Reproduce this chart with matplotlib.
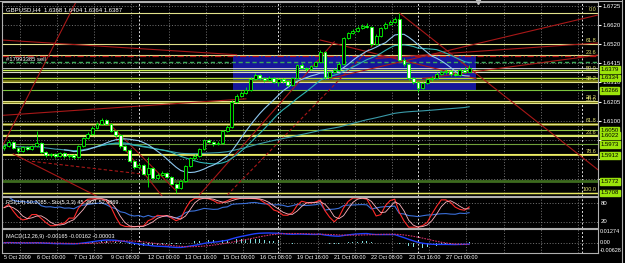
import numpy as np
import pandas as pd
import matplotlib
matplotlib.use("Agg")
import matplotlib.pyplot as plt
import matplotlib.transforms as mtransforms
from matplotlib.lines import Line2D

plt.rcParams['font.family'] = ['Liberation Sans Narrow', 'Liberation Sans', 'DejaVu Sans']

# GBPUSD H4, 5 Oct 2009 - 27 Oct 2009 (one value per bar)
first_open = 1.5950
closes = [1.5963, 1.5985, 1.5952, 1.5936, 1.5958, 1.5947, 1.5963, 1.5980, 1.5931, 1.5914,
          1.5920, 1.5909, 1.5925, 1.5909, 1.5914, 1.5904, 1.5963, 1.6007, 1.6029, 1.6061,
          1.6083, 1.6105, 1.6083, 1.6045, 1.6023, 1.5963, 1.5942, 1.5882, 1.5849, 1.5860,
          1.5811, 1.5844, 1.5789, 1.5806, 1.5816, 1.5795, 1.5757, 1.5735, 1.5773, 1.5855,
          1.5898, 1.5909, 1.5947, 1.5996, 1.5985, 1.5974, 1.5980, 1.6045, 1.6067, 1.6203,
          1.6235, 1.6252, 1.6268, 1.6328, 1.6350, 1.6333, 1.6322, 1.6333, 1.6312, 1.6328,
          1.6317, 1.6295, 1.6333, 1.6404, 1.6388, 1.6382, 1.6399, 1.6420, 1.6475, 1.6339,
          1.6366, 1.6377, 1.6409, 1.6551, 1.6578, 1.6589, 1.6605, 1.6616, 1.6611, 1.6518,
          1.6562, 1.6605, 1.6627, 1.6638, 1.6654, 1.6431, 1.6409, 1.6333, 1.6312, 1.6279,
          1.6306, 1.6328, 1.6333, 1.6355, 1.6366, 1.6371, 1.6355, 1.6350, 1.6377, 1.6368,
          1.6387]
highs = [1.5974, 1.5994, 1.5990, 1.5960, 1.5966, 1.5964, 1.5970, 1.6045, 1.5986, 1.5936,
         1.5928, 1.5925, 1.5932, 1.5930, 1.5921, 1.5918, 1.5970, 1.6015, 1.6038, 1.6070,
         1.6092, 1.6118, 1.6110, 1.6088, 1.6050, 1.6028, 1.5970, 1.5946, 1.5886, 1.5870,
         1.5865, 1.5904, 1.5848, 1.5815, 1.5825, 1.5820, 1.5800, 1.5762, 1.5780, 1.5862,
         1.5906, 1.5918, 1.5955, 1.6004, 1.6002, 1.5992, 1.5988, 1.6052, 1.6075, 1.6212,
         1.6245, 1.6262, 1.6285, 1.6338, 1.6360, 1.6356, 1.6340, 1.6345, 1.6338, 1.6336,
         1.6334, 1.6322, 1.6340, 1.6412, 1.6415, 1.6395, 1.6406, 1.6428, 1.6484, 1.6480,
         1.6374, 1.6386, 1.6418, 1.6558, 1.6586, 1.6598, 1.6614, 1.6626, 1.6630, 1.6618,
         1.6570, 1.6612, 1.6636, 1.6648, 1.6664, 1.6687, 1.6440, 1.6415, 1.6340, 1.6318,
         1.6314, 1.6336, 1.6342, 1.6364, 1.6375, 1.6380, 1.6378, 1.6366, 1.6386, 1.6392,
         1.6404]
lows = [1.5942, 1.5958, 1.5945, 1.5928, 1.5930, 1.5940, 1.5942, 1.5958, 1.5925, 1.5906,
        1.5905, 1.5900, 1.5903, 1.5900, 1.5898, 1.5895, 1.5900, 1.5958, 1.6000, 1.6022,
        1.6055, 1.6076, 1.6075, 1.6038, 1.6015, 1.5955, 1.5935, 1.5875, 1.5840, 1.5842,
        1.5804, 1.5740, 1.5782, 1.5784, 1.5800, 1.5788, 1.5750, 1.5708, 1.5728, 1.5768,
        1.5848, 1.5890, 1.5902, 1.5940, 1.5978, 1.5966, 1.5968, 1.5975, 1.6038, 1.6060,
        1.6195, 1.6228, 1.6245, 1.6262, 1.6320, 1.6325, 1.6314, 1.6315, 1.6304, 1.6290,
        1.6308, 1.6286, 1.6290, 1.6326, 1.6380, 1.6374, 1.6376, 1.6392, 1.6415, 1.6330,
        1.6332, 1.6358, 1.6370, 1.6402, 1.6545, 1.6570, 1.6582, 1.6598, 1.6604, 1.6510,
        1.6512, 1.6555, 1.6598, 1.6620, 1.6630, 1.6424, 1.6400, 1.6325, 1.6302, 1.6258,
        1.6272, 1.6300, 1.6318, 1.6326, 1.6348, 1.6356, 1.6346, 1.6342, 1.6344, 1.6360,
        1.6364]
opens = [first_open] + closes[:-1]

price_ticks = [1.6725, 1.6620, 1.6520, 1.6415, 1.6310, 1.6205, 1.6100, 1.5995, 1.5890, 1.5785]
# the last three sit under the price boxes, so only their grid lines show
hidden_ticks = [1.5995, 1.5890, 1.5785]
time_bars = [0, 7, 15, 23, 31, 39, 47, 55, 63, 71, 79, 87, 95]
time_labels = ["5 Oct 2009", "6 Oct 00:00", "7 Oct 16:00", "9 Oct 08:00", "12 Oct 00:00",
               "13 Oct 16:00", "15 Oct 00:00", "16 Oct 08:00", "19 Oct 16:00", "21 Oct 00:00",
               "22 Oct 08:00", "23 Oct 16:00", "27 Oct 00:00"]
grid_bars = [3.4 + 8 * k for k in range(16)]
separator_bars = [29, 59, 89, 124.3]

# fibonacci anchors: low bar 37, high bar 85
fib_low, fib_high = 1.5708, 1.6687
fib1_levels = [0.0, 23.6, 38.2, 50.0, 61.8, 78.6, 100.0]
fib2_top = 1.7023
fib2_levels = [23.6, 38.2, 50.0, 61.8]

# horizontal line objects with price boxes
hl_prices = [1.6379, 1.6334, 1.6266, 1.6050, 1.6022, 1.5973, 1.5912, 1.5772, 1.5708]
hl_colors = ["#c8f050", "#b4e03c", "#7cc43c", "#8cc040", "#d4e857", "#6fa03a", "#f0f060",
             "#3d6b1f", "#e6e660"]
hl_widths = [1.0, 1.0, 0.8, 0.8, 1.0, 0.8, 1.2, 2.0, 1.0]
olive_prices = [1.6317, 1.6203, 1.6083]
order_price = 1.6453
dashed_green_price = 1.6420
white_prices = [1.6390, 1.6366]

# blue rectangle (bar from/to, price bottom/top)
rect_bars = (49.2, 101.5)
rect_prices = (1.6263, 1.6455)

# trend lines: (bar1, price1, bar2, price2, dashed)
trend_lines = [
    (15.7, 1.6758, -0.4, 1.5960, False),
    (-0.4, 1.6540, 50.0, 1.6460, False),
    (-0.4, 1.6130, 52.0, 1.6220, False),
    (2.0, 1.5920, 20.0, 1.5690, False),
    (6.0, 1.5880, 30.0, 1.5810, True),
    (22.0, 1.6100, 37.0, 1.5720, False),
    (24.0, 1.6010, 34.0, 1.5690, False),
    (85.0, 1.6687, 127.7, 1.5834, False),
    (70.0, 1.6330, 127.7, 1.6676, False),
    (80.0, 1.6440, 127.7, 1.6524, False),
    (90.0, 1.6330, 127.7, 1.6458, False),
    (42.0, 1.5697, 71.0, 1.6530, False),
    (48.0, 1.5697, 80.0, 1.6530, True),
    (68.0, 1.6540, 101.5, 1.6330, False),
]

o = np.array(opens); c = np.array(closes); h = np.array(highs); l = np.array(lows)
x = np.arange(len(c))
cs = pd.Series(c)
ma_fast = cs.rolling(14).mean()
ma_mid = cs.rolling(21).mean()
ma_slow = cs.rolling(100, min_periods=1).mean()

# RSI(14)
d = cs.diff()
up = d.clip(lower=0).ewm(alpha=1 / 14, adjust=False).mean()
dn = (-d.clip(upper=0)).ewm(alpha=1 / 14, adjust=False).mean()
rsi = 100 - 100 / (1 + up / dn)
# Stochastic(5,3,3)
hh = pd.Series(h).rolling(5, min_periods=1).max()
ll = pd.Series(l).rolling(5, min_periods=1).min()
stoch_main = 100 * (cs - ll).rolling(3, min_periods=1).sum() / (hh - ll).rolling(3, min_periods=1).sum()
stoch_sig = stoch_main.rolling(3, min_periods=1).mean()
# MACD(12,26,9)
macd = cs.ewm(span=12, adjust=False).mean() - cs.ewm(span=26, adjust=False).mean()
signal = macd.rolling(9, min_periods=1).mean()
hist = macd - signal

W, H = 625, 263
fig = plt.figure(figsize=(6.25, 2.63), dpi=100, facecolor="black")


def box(x0, y0, x1, y1):
    return [x0 / W, 1 - y1 / H, (x1 - x0) / W, (y1 - y0) / H]


ax = fig.add_axes(box(2, 2, 598, 196))
ax_rsi = fig.add_axes(box(2, 197, 598, 228))
ax_macd = fig.add_axes(box(2, 229, 598, 253))

XMIN, XMAX = -0.43, 127.7
fs = 4.3
for a in (ax, ax_rsi, ax_macd):
    a.set_facecolor("black")
    a.set_xlim(XMIN, XMAX)
    for s in a.spines.values():
        s.set_color("#b0b0b0")
        s.set_linewidth(0.8)
    a.tick_params(axis="both", length=0, labelsize=fs, colors="white")
    a.set_xticks([])
    a.set_yticks([])
    for gb in grid_bars:
        a.axvline(gb, color="#9a9a9a", lw=0.5, ls=(0, (1.5, 2.5)), zorder=0)
    for sb in separator_bars:
        a.axvline(sb, color="#e0e0e0", lw=0.7, ls=(0, (2, 2)), zorder=0)
ax.set_ylim(1.56914, 1.67468)

# main panel ---------------------------------------------------------------
for p in price_ticks:
    ax.axhline(p, color="#9a9a9a", lw=0.5, ls=(0, (1.5, 2.5)), zorder=0)
ax.yaxis.tick_right()
ax.set_yticks(price_ticks)
ax.set_yticklabels(["" if p in hidden_ticks else f"{p:.4f}" for p in price_ticks])
ax.tick_params(axis="y", length=2, pad=1, colors="white", labelsize=fs)

ax.add_patch(plt.Rectangle((rect_bars[0], rect_prices[0]), rect_bars[1] - rect_bars[0],
                           rect_prices[1] - rect_prices[0], facecolor="#16169a",
                           edgecolor="none", zorder=0.5))

for p in olive_prices:
    ax.axhline(p, color="#7a7a10", lw=2.0, zorder=1)
span = fib_high - fib_low
for lv in fib1_levels:
    p = fib_high - lv / 100 * span
    ax.axhline(p, color="#e2e28c", lw=0.8, zorder=1.2)
    ax.text(127.4, p + 0.0004, f"{lv:.1f}", color="#e0e070", fontsize=4.0,
            ha="right", va="bottom", zorder=5)
for lv in fib2_levels:
    p = fib_low + lv / 100 * (fib2_top - fib_low)
    ax.axhline(p, color="#e2e28c", lw=0.8, zorder=1.2)
    ax.text(127.4, p + 0.0004, f"{lv:.1f}", color="#e0e070", fontsize=4.0,
            ha="right", va="bottom", zorder=5)
for p, col, lw in zip(hl_prices, hl_colors, hl_widths):
    ax.axhline(p, color=col, lw=lw, zorder=1.3)
for p in white_prices:
    ax.axhline(p, color="#d8d8d8", lw=0.6, zorder=1.3)
ax.axhline(order_price, color="#c01010", lw=0.9, ls=(0, (5, 2, 1, 2)), zorder=1.4)
ax.axhline(dashed_green_price, color="#3caa5a", lw=1.0, ls=(0, (3, 2)), zorder=1.4)

for b1, p1, b2, p2, dashed in trend_lines:
    ax.plot([b1, b2], [p1, p2], color="#a81818", lw=0.8, zorder=1.5,
            ls=(0, (3, 2)) if dashed else "-")

ax.plot(x, ma_slow, color="#3a9aa8", lw=0.8, zorder=2)
ax.plot(x, ma_mid, color="#2fb4b4", lw=0.8, zorder=2)
ax.plot(x, ma_fast, color="#8ec8f0", lw=0.8, zorder=2)

ax.vlines(x, l, h, color="#00ff00", lw=0.6, zorder=3)
bull = c >= o
body_h = np.maximum(np.abs(c - o), 0.0003)
ax.bar(x[bull], body_h[bull], 0.62, bottom=np.minimum(o, c)[bull], color="black",
       edgecolor="#00ff00", lw=0.6, zorder=4)
ax.bar(x[~bull], body_h[~bull], 0.62, bottom=np.minimum(o, c)[~bull], color="white",
       edgecolor="#00ff00", lw=0.6, zorder=4)

ax.text(4 / 596, 0.975, "GBPUSD,H4  1.6368 1.6404 1.6364 1.6387", transform=ax.transAxes,
        color="white", fontsize=fs, ha="left", va="top")
ax.text(0.4, order_price - 0.0004, "#17993385 sell", color="white", fontsize=4.2,
        ha="left", va="top", zorder=5)
ax.plot([101.8], [1.6745], marker="v", color="#c0c0c0", ms=3, clip_on=False, zorder=6)

trans = mtransforms.blended_transform_factory(ax.transAxes, ax.transData)
for p in hl_prices:
    ax.text(1.004, p, f"{p:.4f}", transform=trans, color="black", fontsize=fs,
            ha="left", va="center", zorder=7,
            bbox=dict(facecolor="#9be40a", edgecolor="#9be40a", pad=0.6))

# RSI / stochastic panel -----------------------------------------------------
ax_rsi.set_ylim(0, 100)
for lvl in (80, 20):
    ax_rsi.axhline(lvl, color="#9a9a9a", lw=0.5, ls=(0, (1.5, 2.5)), zorder=0)
ax_rsi.plot(x, rsi, color="#3a6fd8", lw=0.8)
ax_rsi.plot(x, stoch_main, color="#ff2a2a", lw=0.8)
ax_rsi.plot(x, stoch_sig, color="#ffb4c0", lw=0.6)
ax_rsi.text(4 / 596, 0.9, "RSI(14) 50.2085 - Sto(5,3,3) 45.3521 52.9869",
            transform=ax_rsi.transAxes, color="white", fontsize=4.0, ha="left", va="top")
rtrans = mtransforms.blended_transform_factory(ax_rsi.transAxes, ax_rsi.transData)
for lvl in (80, 20):
    ax_rsi.text(1.004, lvl, str(lvl), transform=rtrans, color="white", fontsize=fs,
                ha="left", va="center")

# MACD panel -----------------------------------------------------------------
ax_macd.set_ylim(-0.0122, 0.0163)
ax_macd.axhline(0, color="#9a9a9a", lw=0.5, ls=(0, (1.5, 2.5)), zorder=0)
ax_macd.bar(x, hist, 0.18, color="#80e0e0", zorder=1)
ax_macd.plot(x, macd, color="#2040ff", lw=1.0, zorder=2)
ax_macd.plot(x, signal, color="#d0306a", lw=0.8, ls=(0, (1.5, 1)), zorder=2)
ax_macd.text(4 / 596, 0.8, "MACD(12,26,9) -0.00165 -0.00162 -0.00003",
             transform=ax_macd.transAxes, color="white", fontsize=4.0, ha="left", va="top")
mtrans = mtransforms.blended_transform_factory(ax_macd.transAxes, ax_macd.transData)
for val, txt, va in ((0.01274, "0.01274", "center"), (0.0, "0.00", "center"),
                     (-0.00628, "-0.00628", "top")):
    ax_macd.text(1.003, val, txt, transform=mtrans, color="white", fontsize=4.0,
                 ha="left", va=va)
ax_macd.set_xticks(time_bars)
ax_macd.set_xticklabels(time_labels, ha="left")
ax_macd.tick_params(axis="x", length=0, pad=1.5, labelsize=4.0, colors="white")

fig.add_artist(Line2D([622 / W, 622 / W], [0, 1], color="#b0b0b0", lw=0.8))
fig.add_artist(Line2D([0, 622 / W], [1 - 0.5 / H, 1 - 0.5 / H], color="#b0b0b0", lw=0.8))

fig.savefig("out.png", dpi=100, facecolor="black")
